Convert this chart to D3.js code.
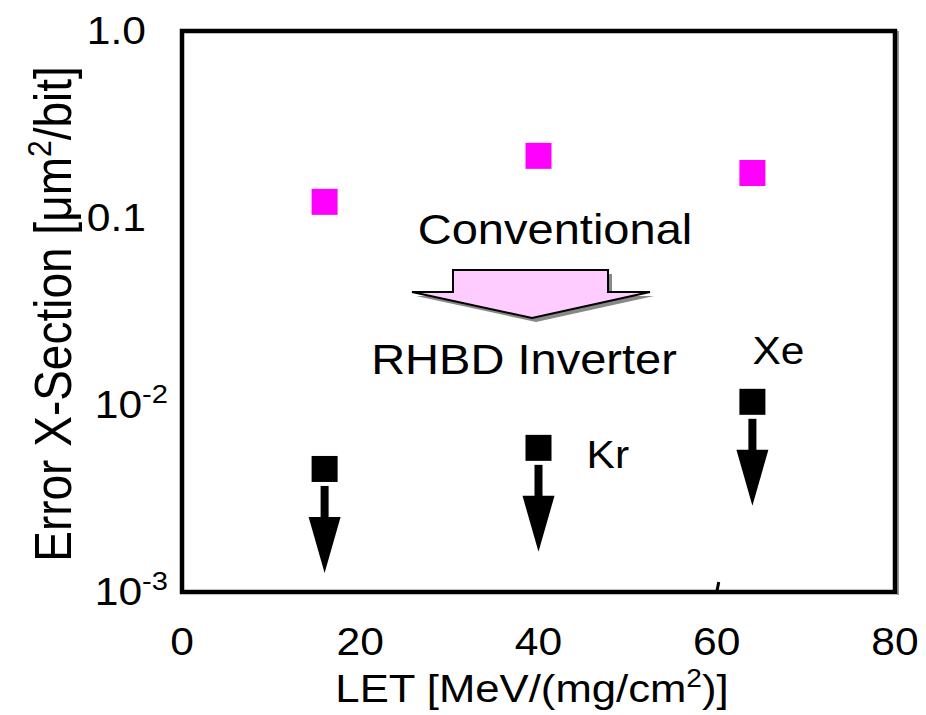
<!DOCTYPE html>
<html>
<head>
<meta charset="utf-8">
<script src="https://cdn.jsdelivr.net/npm/d3@7"></script>
<style>
  body { margin: 0; background: #fff; }
  text { font-family: "Liberation Sans", Arial, sans-serif; fill: #000; }
</style>
</head>
<body>
<script>
// data
var letValues = [16, 40, 64];
var conventional = [0.122, 0.215, 0.174];
var rhbd = [0.00455, 0.0059, 0.0104];   // upper limits (no errors seen)
var ionNames = ["", "Kr", "Xe"];
var xTicks = [0, 20, 40, 60, 80];
var yTicks = [0.001, 0.01, 0.1, 1];
var yTickLabels = [["10", "-3"], ["10", "-2"], ["0.1", ""], ["1.0", ""]];

var width = 926, height = 715;
var sx = 1.12; // the original figure is a bit wider than tall

var svg = d3.select('body').append('svg')
    .attr('width', width)
    .attr('height', height);

var x = d3.scaleLinear().domain([0, 80]).range([182, 895]);
var y = d3.scaleLog().domain([1e-3, 1]).range([592, 31]);

function stext(px, py, size, anchor) {
    return svg.append('text')
        .attr('transform', 'translate(' + px + ',' + py + ') scale(' + sx + ',1)')
        .attr('font-size', size)
        .attr('text-anchor', anchor || 'start');
}

// frame
svg.append('line')
    .attr('x1', x(80) + 3).attr('x2', x(80) + 3)
    .attr('y1', y(1)).attr('y2', y(1e-3) + 3)
    .attr('stroke', '#999').attr('stroke-width', 2);
svg.append('rect')
    .attr('x', x(0)).attr('y', y(1))
    .attr('width', x(80) - x(0)).attr('height', y(1e-3) - y(1))
    .attr('fill', 'none').attr('stroke', '#000').attr('stroke-width', 4.5);
// the lone tick at 60
svg.append('line')
    .attr('x1', x(60)).attr('x2', x(60) + 2)
    .attr('y1', y(1e-3)).attr('y2', y(1e-3) - 10)
    .attr('stroke', '#000').attr('stroke-width', 3);

// x tick labels
xTicks.forEach(function (t) {
    stext(x(t), 655, 38, 'middle').text(t);
});

// y tick labels
yTicks.forEach(function (t, i) {
    var lab = yTickLabels[i];
    var t1 = stext(lab[1] ? 168 : 146, y(t) + 13, 38, 'end');
    t1.append('tspan').text(lab[0]);
    if (lab[1]) {
        t1.append('tspan').attr('font-size', 26).attr('dy', -15).text(lab[1]);
    }
});

// axis titles
var xt = stext(532, 702, 39, 'middle');
xt.append('tspan').text('LET [MeV/(mg/cm');
xt.append('tspan').attr('font-size', 25).attr('dy', -15).text('2');
xt.append('tspan').attr('dy', 15).text(')]');

var yt = svg.append('text')
    .attr('transform', 'translate(71,314) scale(' + sx + ',1) rotate(-90)')
    .attr('font-size', 46)
    .attr('text-anchor', 'middle');
yt.append('tspan').text('Error X-Section [\u03bcm');
yt.append('tspan').attr('font-size', 30).attr('dy', -18).text('2');
yt.append('tspan').attr('dy', 18).text('/bit]');

// conventional inverter points
var sq = 26;
svg.selectAll('rect.conv')
    .data(letValues)
    .enter().append('rect')
    .attr('class', 'conv')
    .attr('x', function (d) { return x(d) - sq / 2; })
    .attr('y', function (d, i) { return y(conventional[i]) - sq / 2; })
    .attr('width', sq).attr('height', sq)
    .attr('fill', '#ff00ff');

// RHBD points with down arrows (upper limits)
var rh = svg.selectAll('g.rhbd')
    .data(letValues)
    .enter().append('g')
    .attr('class', 'rhbd')
    .attr('transform', function (d, i) {
        return 'translate(' + x(d) + ',' + y(rhbd[i]) + ')';
    });
rh.append('rect')
    .attr('x', -sq / 2).attr('y', -sq / 2)
    .attr('width', sq).attr('height', sq)
    .attr('fill', '#000');
rh.append('rect')
    .attr('x', -4).attr('y', 17)
    .attr('width', 8).attr('height', 33)
    .attr('fill', '#000');
rh.append('path')
    .attr('d', 'M-16,48 L16,48 L0,104 Z')
    .attr('fill', '#000');

// ion labels
rh.filter(function (d, i) { return ionNames[i] === 'Kr'; })
    .append('text')
    .attr('transform', 'translate(48,20) scale(' + sx + ',1)')
    .attr('font-size', 38)
    .text('Kr');
rh.filter(function (d, i) { return ionNames[i] === 'Xe'; })
    .append('text')
    .attr('transform', 'translate(0,-38) scale(' + sx + ',1)')
    .attr('font-size', 38)
    .text('Xe');

// annotation: Conventional -> RHBD Inverter
stext(555, 244, 42, 'middle').text('Conventional');
stext(524, 374, 42, 'middle').text('RHBD Inverter');

var bigArrow = [[453, 270], [608, 270], [608, 292], [650, 292], [532, 318], [412, 292], [453, 292]];
var line = d3.line();
svg.append('path')
    .attr('d', line(bigArrow) + 'Z')
    .attr('transform', 'translate(4,4)')
    .attr('fill', '#888');
svg.append('path')
    .attr('d', line(bigArrow) + 'Z')
    .attr('fill', '#ffccff')
    .attr('stroke', '#000')
    .attr('stroke-width', 2)
    .attr('stroke-linejoin', 'miter');
</script>
</body>
</html>
